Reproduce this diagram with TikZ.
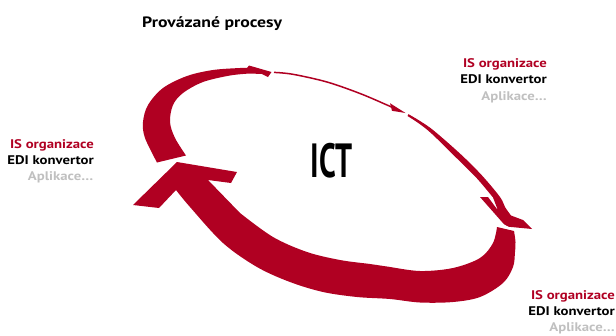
\documentclass[tikz,border=0pt]{standalone}
\usepackage{fontspec}
\setmainfont{PT Sans}[FakeStretch=1.18]
\usepackage{graphicx}
\definecolor{ictred}{RGB}{176,0,34}
\definecolor{ictgray}{RGB}{192,192,192}
\tikzset{
  lbl/.style={font=\bfseries\fontsize{12.5}{16}\selectfont, anchor=base east, inner sep=0pt},
  redlbl/.style={lbl, text=ictred},
  blacklbl/.style={lbl, text=black},
  graylbl/.style={lbl, text=ictgray},
  ring/.style={fill=ictred},
  sm/.style={smooth, tension=0.55}
}
\begin{document}
\begin{tikzpicture}[x=1pt, y=-1pt]
\useasboundingbox (0,0) rectangle (616,335);

% top-left arc with small arrowhead
\fill[ring] plot[sm] coordinates {(157,162.5) (145,138) (143,122) (148,105) (163,88) (187,76) (213,70) (240,68) (247,68)}
  -- (249,65.5) -- (271.5,72) -- (268,77) -- (262,74)
  -- plot[sm] coordinates {(250,73.5) (230,75.5) (203,82) (183,93) (173,105) (170,122) (175,138) (186,155.5)} -- cycle;

% thin connector along the top
\draw[ictred, line width=1.5pt] plot[sm] coordinates {(274,72.4) (293,74.3) (327,82) (360,93.5) (387,105) (396,109.2)};
\fill[ring] (390,103.2) -- (405.5,113) -- (392,110.8) -- cycle;

% right arc with arrowhead
\fill[ring] plot[sm] coordinates {(408.5,114.2) (420,121) (434,130.8) (461,154.5) (482,175.5) (500,197) (505,207) (511,215.5)}
  -- (523,220) -- (532,229) -- (506,226.5) -- (480,197) -- (488,197) -- (498,210.5)
  -- plot[sm] coordinates {(493,197.5) (477,178.5) (457,158.5) (432,134) (419,123.5) (407.5,116)} -- cycle;

% white gap cutting the right arrow tip
\draw[white, line width=2.6pt] (492,219.2) -- (520,234.8);

% bottom arc with big arrowhead
\fill[ring] plot[sm] coordinates {(514,231) (515.5,242) (515,252) (513,267) (503,283) (480,297) (453,302) (420,302.5) (390,299) (357,297) (323,292) (290,282) (257,267) (223,243) (190,207) (176,190)}
  -- (159,208) -- (133,205) -- (177,162) -- (237,172) -- (231,183) -- (208,180)
  -- plot[sm] coordinates {(240,213) (273,237) (307,252) (340,260) (370,264) (387,266.5) (420,271) (453,268) (480,258) (493,243) (497,227)} -- cycle;

% texts
\node[font=\bfseries\fontsize{15}{18}\selectfont, anchor=base west, inner sep=0pt] (title) at (142,27.3) {Provázané procesy};
\node[anchor=base, inner sep=0pt] (ict) at (331.5,177) {\scalebox{0.53}[1]{\fontsize{48}{48}\selectfont\bfseries ICT}};

\node[redlbl] (l1) at (94,148) {IS organizace};
\node[blacklbl] (l2) at (94,164.3) {EDI konvertor};
\node[graylbl] (l3) at (93.5,180.3) {Aplikace…};

\node[redlbl] (r1) at (547,67.3) {IS organizace};
\node[blacklbl] (r2) at (547,83.3) {EDI konvertor};
\node[graylbl] (r3) at (547,100) {Aplikace…};

\node[redlbl] (b1) at (615,299.3) {IS organizace};
\node[blacklbl] (b2) at (615,315.3) {EDI konvertor};
\node[graylbl] (b3) at (615,331.5) {Aplikace…};
\end{tikzpicture}
\end{document}
